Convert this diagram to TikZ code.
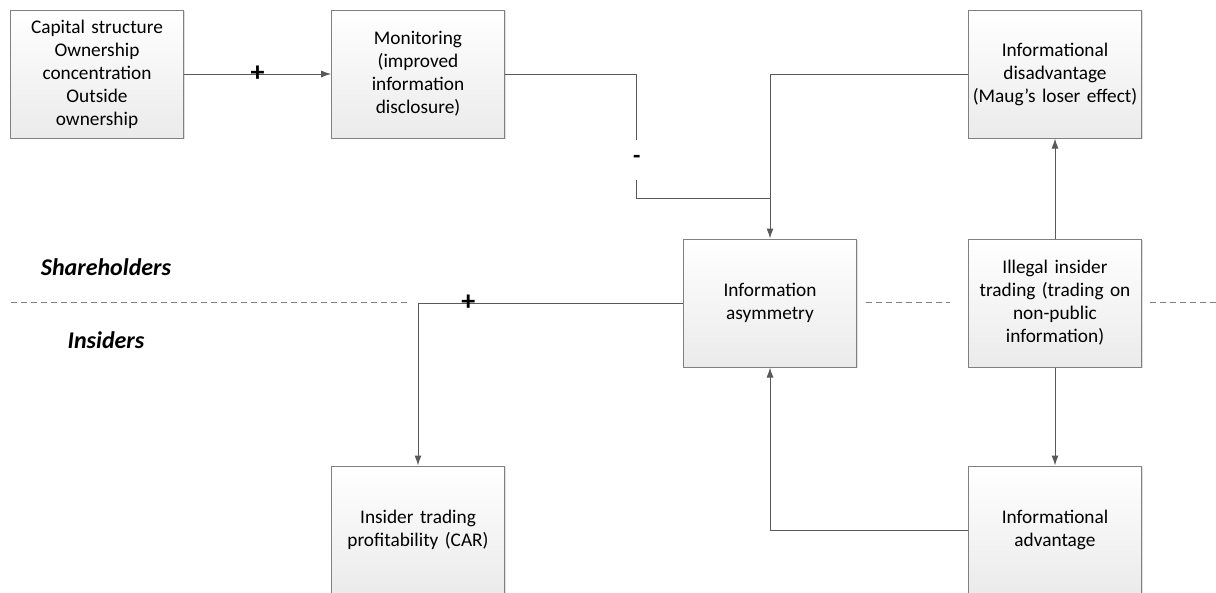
\documentclass[tikz,border=0pt]{standalone}
\usepackage{fontspec}
\setmainfont{Carlito}
\usetikzlibrary{shadows,arrows.meta}
\definecolor{linegray}{HTML}{595959}
\definecolor{edgegray}{HTML}{808080}
\begin{document}
\begin{tikzpicture}[x=1pt,y=-1pt,>={Latex[length=10pt,width=7pt]},
  box/.style={draw=edgegray,line width=1pt,top color=white,bottom color=black!8,
    minimum width=170pt,minimum height=128pt,text width=166pt,align=center,
    font=\fontsize{19.3}{23}\selectfont,
    drop shadow={shadow xshift=1.2pt,shadow yshift=-1.2pt,opacity=0.25}},
  conn/.style={draw=linegray,line width=1pt},
  sign/.style={font=\fontsize{28}{28}\selectfont\bfseries,inner sep=0pt},
  side/.style={font=\fontsize{24}{26}\selectfont\bfseries\itshape},
  divider/.style={draw=gray,line width=0.9pt,dash pattern=on 6pt off 4pt}]
\useasboundingbox (0,0) rectangle (1216,592);

\draw[divider] (11,302) -- (410,302);
\draw[divider] (866,302) -- (950,302);
\draw[divider] (1150,302) -- (1216,302);

\node[side] (share) at (106,267) {Shareholders};
\node[side] (insid) at (106,340) {Insiders};

\node[box] (cap) at (97,74) {Capital structure\\Ownership\\concentration\\Outside\\ownership};
\node[box] (mon) at (418,74) {Monitoring\\(improved\\information\\disclosure)};
\node[box] (dis) at (1055,74) {Informational\\disadvantage\\(Maug’s loser effect)};
\node[box] (info) at (770,303) {Information\\asymmetry};
\node[box] (ill) at (1055,303) {Illegal insider\\trading (trading on\\non-public\\information)};
\node[box] (prof) at (418,530) {Insider trading\\profitability (CAR)};
\node[box] (adv) at (1055,530) {Informational\\advantage};
\coordinate (merge) at (770,198);

\draw[conn,->] (cap) -- node[sign]{+} (mon);
\draw[conn,->] (dis.west) -| (info.north);
\draw[conn] (mon.east) -- ++(132,0) -- node[pos=0.69,fill=white,minimum height=40pt,inner sep=0pt,font=\fontsize{24}{24}\selectfont\bfseries]{-} ++(0,124) -- (merge);
\draw[conn,->] (info.west) -| node[sign,pos=0.405]{+} (prof.north);
\draw[conn,->] (ill.north) -- (dis.south);
\draw[conn,->] (ill.south) -- (adv.north);
\draw[conn,->] (adv.west) -| (info.south);
\end{tikzpicture}
\end{document}
